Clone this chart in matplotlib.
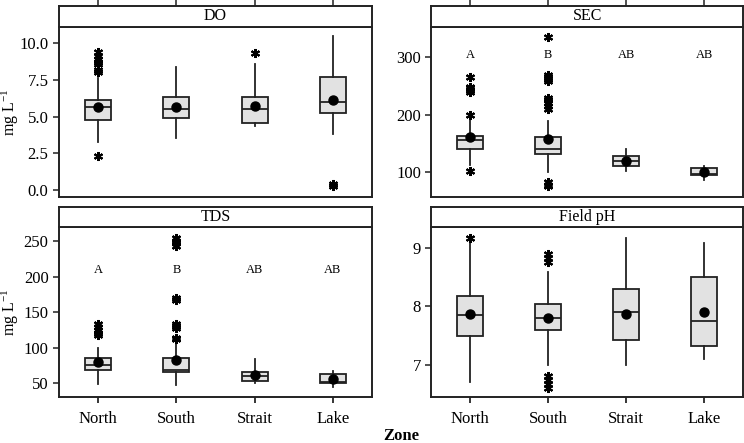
import matplotlib
matplotlib.use("Agg")
import matplotlib.pyplot as plt

plt.rcParams['font.family'] = ['Liberation Serif', 'DejaVu Serif']
plt.rcParams['mathtext.fontset'] = 'stix'

zones = ["North", "South", "Strait", "Lake"]

# DO (mg/L)
do_q1 = [4.8, 4.9, 4.6, 5.26]
do_med = [5.64, 5.55, 5.55, 6.03]
do_q3 = [6.14, 6.33, 6.33, 7.73]
do_wlo = [3.27, 3.56, 4.4, 3.83]
do_whi = [7.62, 8.41, 8.59, 10.5]
do_mean = [5.67, 5.67, 5.76, 6.12]
do_out = [[2.33, 8.05, 8.2, 8.55, 8.7, 8.9, 9.15, 9.37], [], [9.32], [0.3, 0.4]]

# SEC
sec_q1 = [140, 131, 111, 94.8]
sec_med = [155.8, 140.7, 119, 97]
sec_q3 = [162.8, 161, 128, 107.5]
sec_wlo = [113, 99.5, 102.3, 87]
sec_whi = [193.7, 189.5, 139.6, 110]
sec_mean = [161, 157.6, 119.5, 100]
sec_out = [[101, 199, 240, 243, 246, 248, 265],
           [75, 78, 82, 210, 215, 220, 225, 230, 258, 262, 266, 270, 335],
           [], []]
sec_letters = ["A", "B", "AB", "AB"]

# TDS
tds_q1 = [69, 65.5, 53.7, 50]
tds_med = [76, 69, 60.7, 51.5]
tds_q3 = [86, 86, 66.4, 63.5]
tds_wlo = [49.5, 48, 50, 44]
tds_whi = [99.7, 111, 83.8, 67.7]
tds_mean = [79.6, 83, 61.5, 56.5]
tds_out = [[118, 121, 125, 129, 133],
           [112, 114, 128, 131, 134, 167, 170, 243, 247, 251, 255],
           [], []]
tds_letters = ["A", "B", "AB", "AB"]

# Field pH
ph_q1 = [7.49, 7.59, 7.42, 7.31]
ph_med = [7.845, 7.79, 7.9, 7.75]
ph_q3 = [8.17, 8.03, 8.29, 8.5]
ph_wlo = [6.71, 6.99, 6.99, 7.09]
ph_whi = [9.09, 8.58, 9.17, 9.08]
ph_mean = [7.87, 7.8, 7.86, 7.9]
ph_out = [[9.16], [8.75, 8.82, 8.9, 6.6, 6.67, 6.74, 6.8], [], []]

W, H = 744, 443
fig = plt.figure(figsize=(W / 100, H / 100), dpi=100)

def fx(px):
    return px / W

def fy(py):
    return 1 - py / H

cols = [(59, 372), (431.3, 743)]
rows = [(6, 27, 196.7), (207, 227.3, 396.7)]

panels = [
    ("DO", do_q1, do_med, do_q3, do_wlo, do_whi, do_mean, do_out, None,
     (-0.44, 11.1), [0, 2.5, 5, 7.5, 10], "{:.1f}", None),
    ("SEC", sec_q1, sec_med, sec_q3, sec_wlo, sec_whi, sec_mean, sec_out, sec_letters,
     (57, 353), [100, 200, 300], "{:.0f}", 305),
    ("TDS", tds_q1, tds_med, tds_q3, tds_wlo, tds_whi, tds_mean, tds_out, tds_letters,
     (31, 269.7), [50, 100, 150, 200, 250], "{:.0f}", 209),
    ("Field pH", ph_q1, ph_med, ph_q3, ph_wlo, ph_whi, ph_mean, ph_out, None,
     (6.45, 9.35), [7, 8, 9], "{:.0f}", None),
]

lw = 1.3
dark = "#222222"
for i, p in enumerate(panels):
    (title, q1, med, q3, wlo, whi, mean, out, letters, ylim, yt, fmt, ly) = p
    r, c = divmod(i, 2)
    x0, x1 = cols[c]
    st, sb, pb = rows[r]
    ax = fig.add_axes([fx(x0), fy(pb), fx(x1 - x0), (pb - sb) / H])
    sax = fig.add_axes([fx(x0), fy(sb), fx(x1 - x0), (sb - st) / H])

    stats = []
    for k in range(4):
        stats.append(dict(q1=q1[k], med=med[k], q3=q3[k], whislo=wlo[k],
                          whishi=whi[k], mean=mean[k], fliers=out[k]))
    ax.bxp(stats, positions=[1, 2, 3, 4], widths=0.33, patch_artist=True,
           showmeans=True, showcaps=False,
           boxprops=dict(facecolor="#e2e2e2", edgecolor=dark, linewidth=lw),
           medianprops=dict(color=dark, linewidth=lw),
           whiskerprops=dict(color=dark, linewidth=lw),
           meanprops=dict(marker="o", markerfacecolor="black",
                          markeredgecolor="black", markersize=6.5),
           flierprops=dict(marker=(6, 2, 0), markeredgecolor="black",
                           markerfacecolor="black", markersize=6.5,
                           markeredgewidth=1.5, linestyle="none"))
    ax.set_xlim(0.5, 4.5)
    ax.set_ylim(*ylim)
    ax.set_yticks(yt)
    ax.set_yticklabels([fmt.format(v) for v in yt])
    for s in ax.spines.values():
        s.set_linewidth(1.4)
        s.set_color(dark)
    ax.tick_params(axis="y", direction="out", length=4, width=1.1,
                   labelsize=12, colors=dark, labelcolor="black")
    if r == 1:
        ax.set_xticks([1, 2, 3, 4])
        ax.set_xticklabels(zones)
        ax.tick_params(axis="x", direction="out", length=4, width=1.1,
                       labelsize=12, pad=6)
    else:
        ax.set_xticks([])
    if letters is not None:
        for k in range(4):
            ax.text(k + 1, ly, letters[k], ha="center", va="center", fontsize=9)
    if c == 0:
        ax.set_ylabel("mg L$^{\\mathregular{-1}}$", fontsize=11.5)
        ax.yaxis.set_label_coords(-(59 - 21) / (x1 - x0), 0.5)

    sax.set_xlim(0.5, 4.5)
    sax.set_ylim(0, 1)
    sax.set_yticks([])
    for s in sax.spines.values():
        s.set_linewidth(1.4)
        s.set_color(dark)
    if r == 0:
        sax.set_xticks([1, 2, 3, 4])
        sax.xaxis.tick_top()
        sax.tick_params(axis="x", direction="out", length=6, width=1.1,
                        labeltop=False, labelbottom=False, colors=dark)
    else:
        sax.set_xticks([])
    sax.text(0.5, 0.5, title, transform=sax.transAxes, ha="center",
             va="center", fontsize=11.5)

fig.text(fx(401), fy(436), "Zone", ha="center", va="center",
         fontsize=12, fontweight="bold")

fig.savefig("out.png", dpi=100)
